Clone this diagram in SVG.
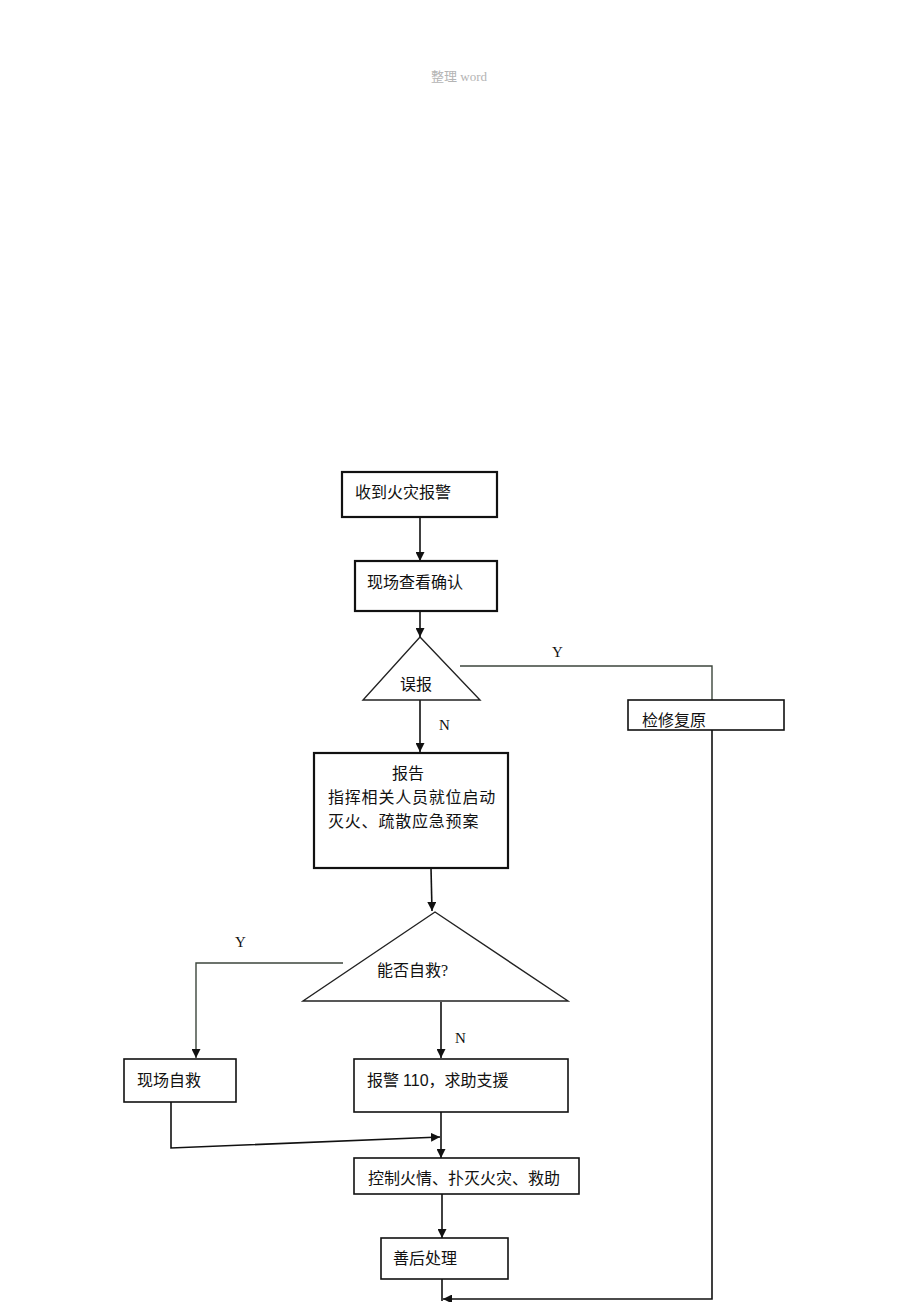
<svg xmlns="http://www.w3.org/2000/svg" width="920" height="1302" viewBox="0 0 920 1302">
<style>
.box{fill:#fff;stroke:#111;stroke-width:1.6}
.thick{stroke-width:2.2}
.tri{fill:#fff;stroke:#222;stroke-width:1.4}
.t{font-family:"Liberation Serif","Noto Sans CJK SC",serif;font-size:16px;fill:#111}
.lbl{font-family:"Liberation Serif","Noto Sans CJK SC",serif;font-size:15px;fill:#111}
.c{fill:none;stroke:#111;stroke-width:1.6}
.g{fill:none;stroke:#3c463c;stroke-width:1.4}
.hdr{font-family:"Liberation Serif","Noto Sans CJK SC",serif;font-size:13px;fill:#b4b4b4}
</style>
<defs>
<marker id="ah" viewBox="0 0 10 10" refX="10" refY="5" markerWidth="9" markerHeight="9" markerUnits="userSpaceOnUse" orient="auto">
<path d="M0,0 L10,5 L0,10 z" fill="#111"/>
</marker>
</defs>
<text class="hdr" x="431" y="81">整理 word</text>

<g id="connectors">
<line class="c" x1="420" y1="517" x2="420" y2="561" marker-end="url(#ah)"/>
<line class="c" x1="420" y1="612" x2="420" y2="637" marker-end="url(#ah)"/>
<polyline class="g" points="460,666 712,666 712,700"/>
<line class="c" x1="420" y1="700" x2="420" y2="752" marker-end="url(#ah)"/>
<line class="c" x1="431" y1="868" x2="432" y2="911" marker-end="url(#ah)"/>
<polyline class="g" points="343,963 196,963 196,1058" marker-end="url(#ah)"/>
<line class="c" x1="441" y1="1002" x2="441" y2="1058" marker-end="url(#ah)"/>
<polyline class="c" points="171,1102 171,1148 440,1137" marker-end="url(#ah)"/>
<line class="c" x1="441" y1="1112" x2="441" y2="1158" marker-end="url(#ah)"/>
<line class="c" x1="442" y1="1194" x2="442" y2="1238" marker-end="url(#ah)"/>
<line class="c" x1="442" y1="1279" x2="442" y2="1301"/>
<polyline class="c" points="712,730 712,1299 443,1299" marker-end="url(#ah)"/>
<text class="lbl" x="552" y="657">Y</text>
<text class="lbl" x="439" y="730">N</text>
<text class="lbl" x="235" y="947">Y</text>
<text class="lbl" x="455" y="1043">N</text>
</g>

<g id="n1">
<rect class="box thick" x="342" y="472" width="155" height="45"/>
<text class="t" x="355" y="498">收到火灾报警</text>
</g>
<g id="n2">
<rect class="box thick" x="355" y="561" width="142" height="50"/>
<text class="t" x="367" y="588">现场查看确认</text>
</g>
<g id="n3">
<polygon class="tri" points="420,637 480,700 363,700"/>
<text class="t" x="400" y="690">误报</text>
</g>
<g id="n4">
<rect class="box" x="628" y="700" width="156" height="30"/>
<text class="t" x="642" y="726">检修复原</text>
</g>
<g id="n5">
<rect class="box thick" x="314" y="753" width="194" height="115"/>
<text class="t" x="392" y="779">报告</text>
<text class="t" x="328" y="803" letter-spacing="0.8">指挥相关人员就位启动</text>
<text class="t" x="328" y="827" letter-spacing="0.8">灭火、疏散应急预案</text>
</g>
<g id="n6">
<polygon class="tri" points="435,912 568,1001 303,1001"/>
<text class="t" x="377" y="976">能否自救?</text>
</g>
<g id="n7">
<rect class="box" x="124" y="1059" width="112" height="43"/>
<text class="t" x="137" y="1086">现场自救</text>
</g>
<g id="n8">
<rect class="box" x="354" y="1059" width="214" height="53"/>
<text class="t" x="367" y="1086">报警 <tspan font-family="Liberation Sans, sans-serif">110</tspan>，求助支援</text>
</g>
<g id="n9">
<rect class="box" x="354" y="1158" width="225" height="36"/>
<text class="t" x="368" y="1184">控制火情、扑灭火灾、救助</text>
</g>
<g id="n10">
<rect class="box" x="381" y="1238" width="127" height="41"/>
<text class="t" x="393" y="1264">善后处理</text>
</g>
</svg>
